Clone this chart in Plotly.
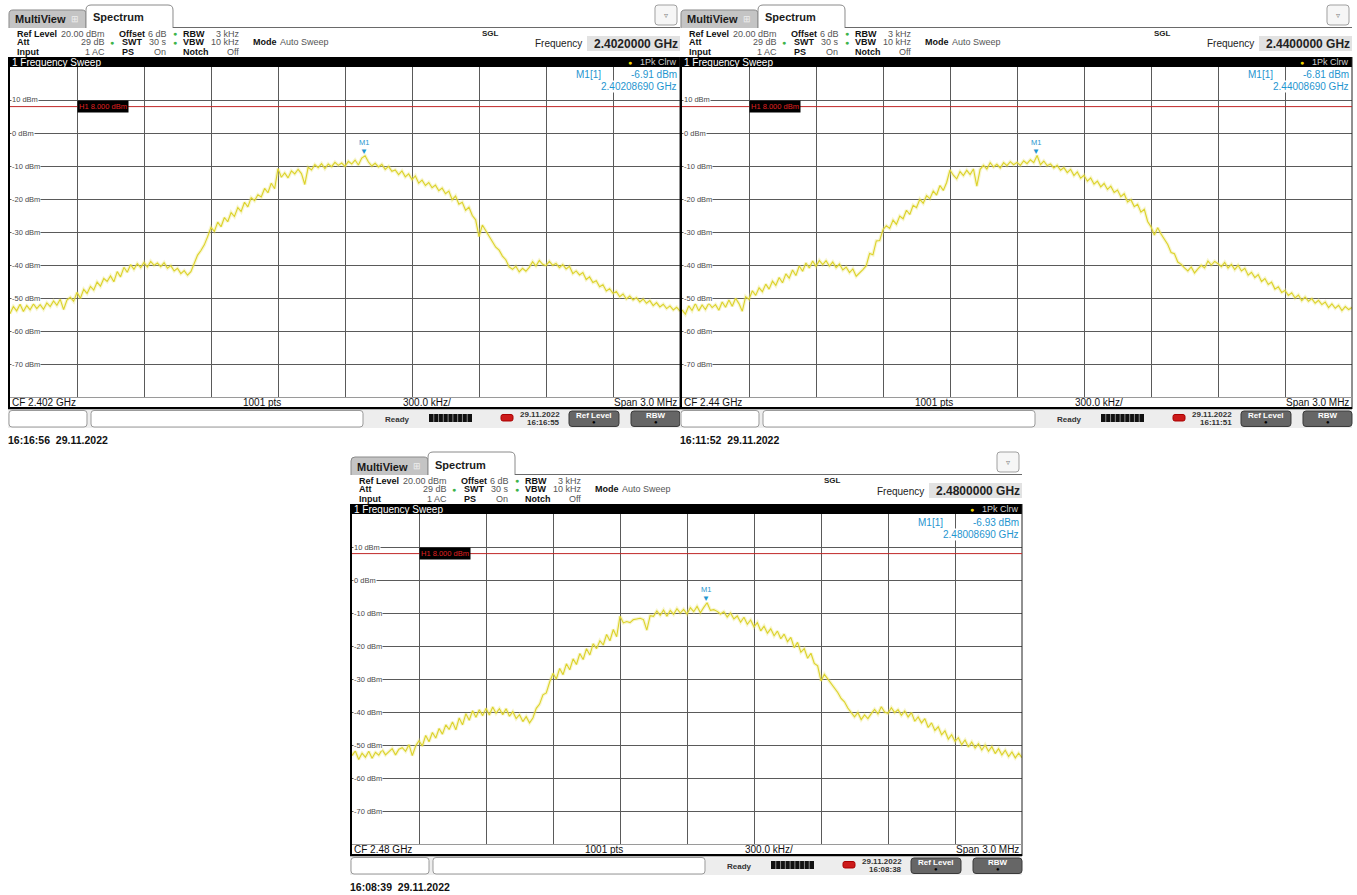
import numpy as np
import plotly.graph_objects as go

# ---------------- data ----------------
centers_mhz = [2402.0, 2440.0, 2480.0]
span_mhz = 3.0
freq_readout = ["2.4020000 GHz", "2.4400000 GHz", "2.4800000 GHz"]
cf_labels = ["CF 2.402 GHz", "CF 2.44 GHz", "CF 2.48 GHz"]
marker_ghz = [2.40208690, 2.44008690, 2.48008690]
marker_dbm = [-6.91, -6.81, -6.93]
marker_freq_text = ["2.40208690 GHz", "2.44008690 GHz", "2.48008690 GHz"]
status_times = ["16:16:55", "16:11:51", "16:08:38"]
status_date = "29.11.2022"
capture_stamps = ["16:16:56  29.11.2022", "16:11:52  29.11.2022", "16:08:39  29.11.2022"]
level_ticks = [10, 0, -10, -20, -30, -40, -50, -60, -70]
ref_level_dbm = 20.0
bottom_level_dbm = -80.0
h1_dbm = 8.0

trace_2402 = [
    -54.8, -52.6, -53.9, -51.9, -54.1, -52.3, -53.6, -51.8, -53.2, -52.0,
    -53.4, -51.5, -52.6, -50.9, -52.2, -50.4, -53.5, -50.6, -49.8, -51.0,
    -48.3, -50.1, -47.4, -48.6, -46.5, -47.6, -45.2, -46.4, -44.1, -45.0,
    -43.3, -45.1, -42.0, -43.6, -40.7, -42.2, -39.9, -41.3, -39.6, -40.8,
    -39.2, -40.6, -38.9, -40.1, -39.4, -40.5, -39.3, -41.0, -40.2, -41.8,
    -41.0, -42.6, -41.7, -43.1, -42.0, -39.5, -37.0, -35.6, -33.9, -31.4,
    -28.6, -29.8, -27.0, -28.4, -25.6, -26.9, -24.1, -25.3, -22.6, -23.8,
    -21.0, -22.4, -19.6, -20.5, -18.7, -19.4, -16.8, -18.1, -15.2, -16.9,
    -10.8, -13.4, -12.1, -13.6, -11.5, -12.4, -11.0, -12.3, -15.6, -10.4,
    -11.2, -9.6, -10.5, -9.3, -10.8, -9.4, -10.2, -8.9, -9.8, -9.1,
    -10.1, -8.6, -9.4, -8.2, -9.7, -7.6, -6.9, -8.8, -10.0, -9.2,
    -10.3, -9.5, -11.0, -10.1, -11.6, -11.2, -12.6, -11.5, -13.3, -12.4,
    -14.1, -13.0, -15.2, -14.3, -15.9, -15.0, -16.6, -15.8, -17.5, -16.7,
    -18.4, -17.6, -20.2, -19.1, -21.6, -21.0, -23.4, -22.5, -25.0, -26.3,
    -31.4, -27.9, -29.6, -31.5, -33.0, -34.6, -35.5, -37.3, -38.4, -40.6,
    -41.3, -40.4, -42.1, -41.0, -41.9, -40.7, -39.0, -40.3, -38.6, -39.8,
    -40.2, -38.9, -40.1, -39.5, -40.8, -39.9, -41.2, -40.4, -42.6, -41.8,
    -43.0, -42.3, -44.4, -43.6, -45.3, -44.8, -46.6, -46.0, -47.9, -47.2,
    -48.6, -48.0, -49.6, -48.8, -50.3, -49.4, -50.6, -49.9, -51.2, -50.3,
    -51.6, -50.8, -52.3, -51.4, -52.7, -51.9, -53.2, -52.4, -53.6, -52.8,
    -54.0,
]

trace_2440 = [
    -53.6, -54.9, -52.4, -53.8, -51.7, -53.9, -52.1, -53.5, -51.6, -52.9,
    -52.0, -53.7, -51.2, -52.8, -50.6, -52.5, -50.1, -51.7, -54.0, -49.6,
    -50.4, -47.8, -49.2, -46.9, -48.1, -45.8, -47.3, -44.9, -46.2, -43.8,
    -45.4, -42.7, -44.0, -41.5, -43.2, -40.3, -41.9, -39.4, -40.9, -38.8,
    -40.4, -38.6, -39.9, -38.7, -40.3, -39.1, -40.8, -39.7, -41.5, -40.6,
    -42.3, -41.2, -43.4, -42.5, -41.4, -40.2, -36.5, -36.9, -32.7, -32.6,
    -29.3, -28.1, -28.9, -26.4, -27.7, -25.2, -26.0, -23.4, -24.7, -21.9,
    -22.6, -20.1, -21.3, -19.0, -19.9, -17.6, -18.8, -15.9, -17.4, -15.0,
    -11.2, -12.8, -13.9, -11.7, -12.9, -11.3, -12.6, -10.9, -16.1, -11.0,
    -9.8, -10.9, -9.0, -10.3, -9.5, -10.6, -9.0, -9.9, -8.7, -9.6,
    -8.9, -9.8, -8.4, -9.3, -8.1, -9.0, -6.8, -9.6, -8.5, -9.9,
    -9.4, -10.6, -9.8, -11.3, -10.5, -12.0, -11.0, -12.9, -11.8, -13.7,
    -12.8, -14.6, -13.6, -15.5, -14.6, -16.3, -15.3, -17.1, -16.1, -18.0,
    -17.3, -19.3, -18.4, -20.9, -20.2, -22.3, -21.6, -24.0, -23.1, -26.8,
    -28.4, -30.9, -28.7, -30.6, -32.3, -33.8, -36.2, -36.6, -39.1, -39.8,
    -40.9, -41.8, -40.6, -42.4, -41.2, -40.1, -40.9, -38.8, -40.0, -38.9,
    -39.6, -40.5, -39.2, -40.9, -39.8, -41.4, -40.1, -41.8, -41.0, -43.1,
    -42.2, -43.8, -42.9, -45.0, -44.1, -45.9, -45.2, -47.3, -46.6, -48.3,
    -47.7, -49.2, -48.4, -50.0, -49.1, -50.8, -49.7, -51.0, -50.2, -51.6,
    -50.7, -52.0, -51.2, -52.9, -51.8, -53.1, -52.2, -53.8, -52.6, -53.5,
    -52.9,
]

trace_2480 = [
    -53.2, -51.8, -54.4, -52.5, -53.7, -51.9, -54.0, -52.2, -53.1, -51.4,
    -53.0, -52.1, -51.1, -53.0, -51.3, -50.8, -51.9, -49.9, -53.2, -50.3,
    -48.7, -50.3, -47.1, -49.0, -46.2, -47.9, -45.0, -46.7, -43.9, -45.3,
    -43.0, -45.4, -41.8, -43.9, -40.5, -42.5, -39.6, -41.6, -39.3, -41.1,
    -38.9, -40.9, -38.5, -40.4, -39.0, -40.8, -39.0, -41.3, -39.9, -42.0,
    -40.8, -42.9, -41.4, -43.3, -41.8, -38.9, -37.6, -34.8, -34.2, -30.9,
    -28.3, -30.0, -26.8, -28.7, -25.4, -27.2, -23.9, -25.6, -22.3, -24.1,
    -20.8, -22.7, -19.3, -20.8, -18.4, -19.7, -16.5, -18.4, -15.0, -17.2,
    -11.0, -13.0, -12.6, -12.9, -12.0, -11.8, -11.6, -12.0, -15.2, -10.8,
    -11.0, -9.4, -10.7, -9.1, -11.0, -9.2, -10.4, -8.7, -10.0, -8.9,
    -10.3, -8.4, -9.6, -8.0, -9.9, -8.3, -6.9, -9.2, -9.0, -9.5,
    -10.3, -9.6, -11.2, -10.0, -11.8, -10.9, -12.8, -11.3, -13.4, -12.1,
    -14.2, -12.9, -15.4, -14.0, -16.1, -14.8, -16.9, -15.5, -17.8, -16.4,
    -18.7, -17.4, -20.5, -18.9, -21.9, -20.8, -23.7, -22.2, -25.3, -26.0,
    -30.6, -28.6, -29.9, -31.2, -32.6, -34.1, -35.9, -36.9, -38.8, -40.2,
    -41.5, -40.2, -42.3, -40.9, -42.0, -40.5, -39.2, -40.6, -38.4, -40.0,
    -40.4, -38.7, -40.2, -39.3, -41.0, -39.7, -41.5, -40.2, -42.8, -41.5,
    -43.3, -42.0, -44.7, -43.3, -45.6, -44.5, -46.9, -45.7, -48.2, -46.9,
    -48.9, -47.8, -49.9, -48.5, -50.6, -49.1, -50.9, -49.6, -51.5, -50.0,
    -51.9, -50.5, -52.6, -51.1, -53.0, -51.6, -53.5, -52.1, -53.9, -52.5,
    -53.8,
]
traces = [trace_2402, trace_2440, trace_2480]

# ---------------- layout helpers (pixel -> paper) ----------------
W, H = 1357, 895
FONT = "Liberation Sans, Arial, sans-serif"
PANEL_ORIGINS = [(0, 0), (672, 0), (342, 447)]
MARK_BLUE = "#1f95cf"
GRID = "#5a5a5a"


def X(x):
    return x / W


def Y(y):
    return 1 - y / H


shapes, annots = [], []


def rect(x0, y0, x1, y1, fill=None, line=None, lw=1):
    shapes.append(dict(type="rect", xref="paper", yref="paper",
                       x0=X(x0), x1=X(x1), y0=Y(y1), y1=Y(y0),
                       fillcolor=fill or "rgba(0,0,0,0)",
                       line=dict(color=line or "rgba(0,0,0,0)", width=lw if line else 0)))


def hline(x0, x1, y, color, lw=1):
    shapes.append(dict(type="line", xref="paper", yref="paper",
                       x0=X(x0), x1=X(x1), y0=Y(y), y1=Y(y),
                       line=dict(color=color, width=lw)))


def vline(x, y0, y1, color, lw=1):
    shapes.append(dict(type="line", xref="paper", yref="paper",
                       x0=X(x), x1=X(x), y0=Y(y0), y1=Y(y1),
                       line=dict(color=color, width=lw)))


def rpath(x0, y0, x1, y1, r, fill, line, top_only=False):
    def P(x, y):
        return f"{X(x):.6f},{Y(y):.6f}"
    if top_only:
        d = (f"M{P(x0, y1)} L{P(x0, y0 + r)} Q{P(x0, y0)} {P(x0 + r, y0)} "
             f"L{P(x1 - r, y0)} Q{P(x1, y0)} {P(x1, y0 + r)} L{P(x1, y1)}")
    else:
        d = (f"M{P(x0, y0 + r)} Q{P(x0, y0)} {P(x0 + r, y0)} L{P(x1 - r, y0)} "
             f"Q{P(x1, y0)} {P(x1, y0 + r)} L{P(x1, y1 - r)} Q{P(x1, y1)} {P(x1 - r, y1)} "
             f"L{P(x0 + r, y1)} Q{P(x0, y1)} {P(x0, y1 - r)} Z")
    shapes.append(dict(type="path", xref="paper", yref="paper", path=d,
                       fillcolor=fill, line=dict(color=line, width=1)))


def text(x, y, s, size=9, color="#222", bold=False, anchor="left", bg=None):
    a = dict(xref="paper", yref="paper", x=X(x), y=Y(y),
             text=f"<b>{s}</b>" if bold else s, showarrow=False,
             xanchor=anchor, yanchor="middle", borderpad=0,
             font=dict(size=size, color=color, family=FONT))
    if bg:
        a["bgcolor"] = bg
    annots.append(a)


fig = go.Figure()
layout_axes = {}

for k in range(3):
    dx, dy = PANEL_ORIGINS[k]
    cf = centers_mhz[k]
    xa = "x" if k == 0 else f"x{k + 1}"
    ya = "y" if k == 0 else f"y{k + 1}"

    # ---- tabs ----
    rpath(9 + dx, 10 + dy, 86 + dx, 28 + dy, 4, "#c4c4c4", "#8a8a8a", top_only=True)
    text(14 + dx, 19.5 + dy, "MultiView", 11, "#1a1a1a", bold=True)
    text(75 + dx, 19 + dy, "⊞", 9, "#eeeeee", anchor="center")
    rpath(86 + dx, 5 + dy, 173 + dx, 28 + dy, 5, "#ffffff", "#8a8a8a", top_only=True)
    text(92 + dx, 17.5 + dy, "Spectrum", 11, "#1a1a1a", bold=True)
    hline(173 + dx, 680 + dx, 27.5 + dy, "#6a6a6a")
    rpath(655 + dx, 5 + dy, 677 + dx, 25 + dy, 3, "#f6f6f6", "#a0a0a0")
    text(666 + dx, 15 + dy, "▿", 8, "#808080", anchor="center")

    # ---- header ----
    r1, r2, r3 = 33.5 + dy, 42.5 + dy, 51.5 + dy
    lab, val = "#111111", "#555555"
    text(16 + dx, r1, "Ref Level", 9, lab, bold=True)
    text(106 + dx, r1, f"{ref_level_dbm:.2f} dBm", 9, val, anchor="right")
    text(16 + dx, r2, "Att", 9, lab, bold=True)
    text(106 + dx, r2, "29 dB", 9, val, anchor="right")
    text(16 + dx, r3, "Input", 9, lab, bold=True)
    text(106 + dx, r3, "1 AC", 9, val, anchor="right")
    text(112 + dx, r2, "●", 7, "#3cb44b", anchor="center")
    text(118 + dx, r1, "Offset", 9, lab, bold=True)
    text(168 + dx, r1, "6 dB", 9, val, anchor="right")
    text(121 + dx, r2, "SWT", 9, lab, bold=True)
    text(168 + dx, r2, "30 s", 9, val, anchor="right")
    text(121 + dx, r3, "PS", 9, lab, bold=True)
    text(167 + dx, r3, "On", 9, val, anchor="right")
    text(175 + dx, r1, "●", 7, "#3cb44b", anchor="center")
    text(175 + dx, r2, "●", 7, "#3cb44b", anchor="center")
    text(182 + dx, r1, "RBW", 9, lab, bold=True)
    text(241 + dx, r1, "3 kHz", 9, val, anchor="right")
    text(182 + dx, r2, "VBW", 9, lab, bold=True)
    text(241 + dx, r2, "10 kHz", 9, val, anchor="right")
    text(182 + dx, r3, "Notch", 9, lab, bold=True)
    text(240 + dx, r3, "Off", 9, val, anchor="right")
    text(252 + dx, r2, "Mode", 9, lab, bold=True)
    text(279 + dx, r2, "Auto Sweep", 9, val)
    text(490 + dx, 33 + dy, "SGL", 8, "#222222", bold=True, anchor="center")
    text(534 + dx, 44 + dy, "Frequency", 10, "#222222")
    rect(587 + dx, 36 + dy, 680 + dx, 51 + dy, fill="#e2e2e2")
    text(679 + dx, 43.5 + dy, freq_readout[k], 12, "#222222", bold=True, anchor="right")

    # ---- sweep title bar & frame ----
    rect(8 + dx, 57 + dy, 680 + dx, 67 + dy, fill="#000000")
    text(11 + dx, 62 + dy, "1 Frequency Sweep", 10, "#ffffff")
    text(630 + dx, 62 + dy, "●", 7, "#f2d600", anchor="center")
    text(678 + dx, 62 + dy, "1Pk Clrw", 9, "#cfcfcf", anchor="right")
    rect(8 + dx, 57 + dy, 10 + dx, 409 + dy, fill="#000000")
    vline(680 + dx, 57 + dy, 409 + dy, "#222222", 1)
    hline(10 + dx, 680 + dx, 397.5 + dy, "#9a9a9a", 1)

    # ---- bottom info row ----
    text(11 + dx, 402.5 + dy, cf_labels[k], 10, "#111111")
    text(262 + dx, 402.5 + dy, "1001 pts", 10, "#111111", anchor="center")
    text(427 + dx, 402.5 + dy, f"{span_mhz / 10 * 1000:.1f} kHz/", 10, "#111111", anchor="center")
    text(678 + dx, 402.5 + dy, f"Span {span_mhz:.1f} MHz", 10, "#111111", anchor="right")
    rect(8 + dx, 407 + dy, 680 + dx, 409.5 + dy, fill="#000000")

    # ---- status bar ----
    rect(8 + dx, 409.5 + dy, 680 + dx, 428 + dy, fill="#ededed")
    rpath(9 + dx, 410.5 + dy, 87 + dx, 427 + dy, 3, "#ffffff", "#9a9a9a")
    rpath(91 + dx, 410.5 + dy, 363 + dx, 427 + dy, 3, "#ffffff", "#9a9a9a")
    text(397 + dx, 419 + dy, "Ready", 8, "#333333", bold=True, anchor="center")
    rect(429 + dx, 414 + dy, 472 + dx, 422 + dy, fill="#111111")
    for j in range(1, 9):
        vline(429 + dx + j * 43 / 9, 414 + dy, 422 + dy, "#8a8a8a", 1)
    rpath(501 + dx, 414.5 + dy, 513 + dx, 421 + dy, 2, "#cc1a1a", "#aa0000")
    text(561 + dx, 414.5 + dy, status_date, 8, "#333333", bold=True, anchor="right")
    text(561 + dx, 422.5 + dy, status_times[k], 8, "#333333", bold=True, anchor="right")
    for bx0, bx1, lbl in [(569, 619, "Ref Level"), (631, 680, "RBW")]:
        rpath(bx0 + dx, 411 + dy, bx1 + dx, 426.5 + dy, 3, "#666666", "#3a3a3a")
        text((bx0 + bx1) / 2 + dx, 415.5 + dy, lbl, 8, "#ffffff", bold=True, anchor="center")
        text((bx0 + bx1) / 2 + dx, 422 + dy, "●", 6, "#000000", anchor="center")

    # ---- capture timestamp ----
    text(7 + dx, 440 + dy, capture_stamps[k], 10.5, "#111111", bold=True)

    # ---- axes (plot area) ----
    layout_axes["xaxis" if k == 0 else f"xaxis{k + 1}"] = dict(
        domain=[X(10 + dx), X(680 + dx)], range=[cf - span_mhz / 2, cf + span_mhz / 2],
        anchor=ya, showgrid=True, gridcolor=GRID, gridwidth=1,
        tick0=cf - span_mhz / 2, dtick=span_mhz / 10, showticklabels=False,
        ticks="", zeroline=False, showline=False, fixedrange=True)
    layout_axes["yaxis" if k == 0 else f"yaxis{k + 1}"] = dict(
        domain=[Y(397 + dy), Y(67 + dy)], range=[bottom_level_dbm, ref_level_dbm],
        anchor=xa, showgrid=True, gridcolor=GRID, gridwidth=1,
        tick0=0, dtick=10, showticklabels=False, ticks="",
        zeroline=False, showline=False, fixedrange=True)

    # ---- level labels inside plot ----
    for v in level_ticks:
        annots.append(dict(xref="paper", yref=ya, x=X(11 + dx), y=v,
                           text=f"{v} dBm", showarrow=False, xanchor="left",
                           yanchor="middle", bgcolor="#ffffff", borderpad=0,
                           font=dict(size=7.5, color="#4a4a4a", family=FONT)))

    # ---- H1 display line ----
    shapes.append(dict(type="line", xref="paper", yref=ya,
                       x0=X(10 + dx), x1=X(680 + dx), y0=h1_dbm, y1=h1_dbm,
                       line=dict(color="#c02828", width=1)))
    annots.append(dict(xref=xa, yref=ya, x=cf - span_mhz / 2 + span_mhz / 10, y=h1_dbm,
                       text=f"H1 {h1_dbm:.3f} dBm", showarrow=False, xanchor="left",
                       yanchor="middle", bgcolor="#000000", borderpad=1,
                       font=dict(size=7.5, color="#e02020", family=FONT)))

    # ---- trace ----
    vals = traces[k]
    freqs = cf + np.linspace(-span_mhz / 2, span_mhz / 2, len(vals))
    fig.add_trace(go.Scatter(x=freqs, y=vals, mode="lines", xaxis=xa, yaxis=ya,
                             line=dict(color="rgba(235,230,120,0.35)", width=3.5),
                             hoverinfo="skip", showlegend=False))
    fig.add_trace(go.Scatter(x=freqs, y=vals, mode="lines", xaxis=xa, yaxis=ya,
                             line=dict(color="#dcd22a", width=1.1),
                             hoverinfo="skip", showlegend=False))

    # ---- marker M1 ----
    mf = marker_ghz[k] * 1000
    annots.append(dict(xref=xa, yref=ya, x=mf, y=marker_dbm[k], text="▼",
                       showarrow=False, xanchor="center", yanchor="middle", yshift=4,
                       font=dict(size=8, color=MARK_BLUE, family=FONT)))
    annots.append(dict(xref=xa, yref=ya, x=mf, y=marker_dbm[k], text="M1",
                       showarrow=False, xanchor="center", yanchor="middle", yshift=13,
                       font=dict(size=7.5, color=MARK_BLUE, family=FONT)))
    text(575 + dx, 75 + dy, "M1[1]", 10, MARK_BLUE, bg="#ffffff")
    text(678 + dx, 75 + dy, f"{marker_dbm[k]:.2f} dBm", 10, MARK_BLUE, anchor="right", bg="#ffffff")
    text(678 + dx, 87 + dy, marker_freq_text[k], 10, MARK_BLUE, anchor="right", bg="#ffffff")

fig.update_layout(
    width=W, height=H, margin=dict(l=0, r=0, t=0, b=0),
    paper_bgcolor="#ffffff", plot_bgcolor="#ffffff",
    shapes=shapes, annotations=annots, showlegend=False,
    font=dict(family=FONT), **layout_axes)

fig.write_html("out.html", config={"displayModeBar": False},
               post_script="document.body.style.margin='0';")
